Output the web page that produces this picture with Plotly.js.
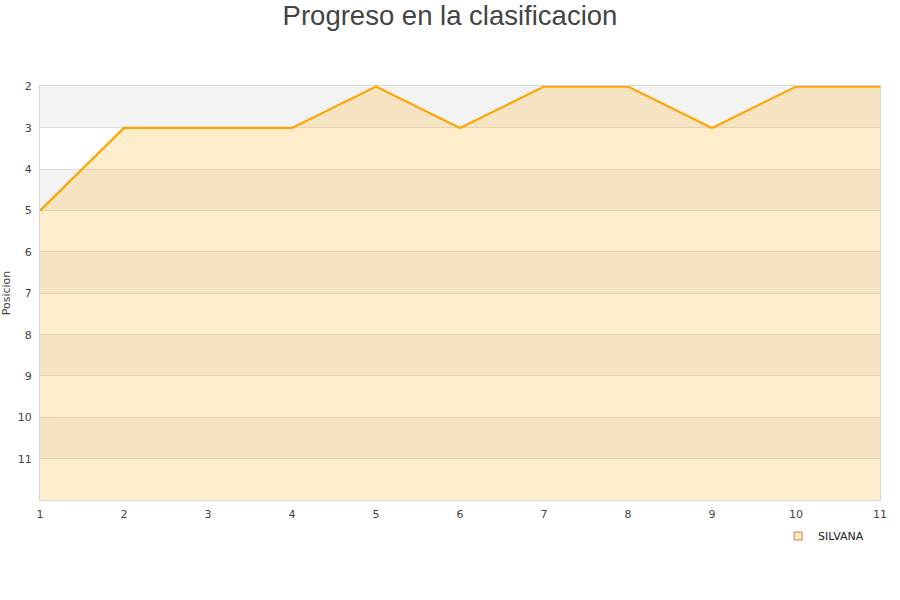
<!DOCTYPE html>
<html>
<head>
<meta charset="utf-8">
<script src="https://cdn.plot.ly/plotly-3.0.1.min.js"></script>
<style>html,body{margin:0;padding:0;background:#fff;}#chart{width:900px;height:600px;}</style>
</head>
<body>
<div id="chart"></div>
<script>
const jornadas = [1, 2, 3, 4, 5, 6, 7, 8, 9, 10, 11];
const posiciones = [5, 3, 3, 3, 2, 3, 2, 2, 3, 2, 2];
const jugador = "SILVANA";
const yTicks = [2, 3, 4, 5, 6, 7, 8, 9, 10, 11];
const fondoPos = 12;

const baseline = jornadas.map(() => fondoPos);

const bands = [];
for (let p = 2; p < fondoPos; p += 2) {
  bands.push({type: 'rect', xref: 'paper', yref: 'y', x0: 0, x1: 1, y0: p, y1: p + 1,
    fillcolor: '#f3f3f3', line: {width: 0}, layer: 'below'});
}

const traces = [
  {x: jornadas, y: baseline, mode: 'lines', line: {width: 0}, showlegend: false, hoverinfo: 'skip'},
  {x: jornadas, y: posiciones, mode: 'lines', name: jugador, fill: 'tonexty', showlegend: false,
    fillcolor: 'rgba(255,165,0,0.2)', line: {color: '#FFA500', width: 2.2}},
  {x: [null], y: [null], mode: 'markers', name: jugador, showlegend: true,
    marker: {symbol: 'square', size: 8, color: 'rgba(255,165,0,0.25)', line: {color: '#b08850', width: 1}}}
];

const layout = {
  width: 900, height: 600,
  margin: {l: 40, r: 20, t: 86, b: 100},
  paper_bgcolor: '#ffffff', plot_bgcolor: '#ffffff',
  title: {text: 'Progreso en la clasificacion', x: 0.5, xanchor: 'center', y: 0.99, yanchor: 'top',
    font: {family: 'Liberation Sans, Arial, sans-serif', size: 27.5, color: '#444'}},
  font: {family: 'DejaVu Sans, sans-serif', size: 11, color: '#444'},
  xaxis: {range: [1, 11], tickvals: jornadas, showgrid: false, zeroline: false,
    showline: true, linecolor: '#d6d6d6', linewidth: 1, mirror: true, ticks: '',
    ticklabelstandoff: 4,
    tickfont: {size: 11, color: '#444'}},
  yaxis: {range: [fondoPos, 1.985], tickvals: yTicks, showgrid: true, gridcolor: '#dddddd', zeroline: false,
    showline: true, linecolor: '#d6d6d6', linewidth: 1, mirror: true, ticks: '',
    ticklabelstandoff: 5,
    tickfont: {size: 11, color: '#444'},
    title: {text: 'Posicion', font: {size: 11, color: '#444'}, standoff: 8}},
  shapes: bands,
  showlegend: true,
  legend: {x: 0.987, y: -0.087, xanchor: 'right', yanchor: 'middle', orientation: 'h', itemwidth: 30,
    font: {family: 'DejaVu Sans, sans-serif', size: 11, color: '#222'}, bgcolor: 'rgba(0,0,0,0)'}
};

Plotly.newPlot('chart', traces, layout, {displayModeBar: false, staticPlot: true});
</script>
</body>
</html>
